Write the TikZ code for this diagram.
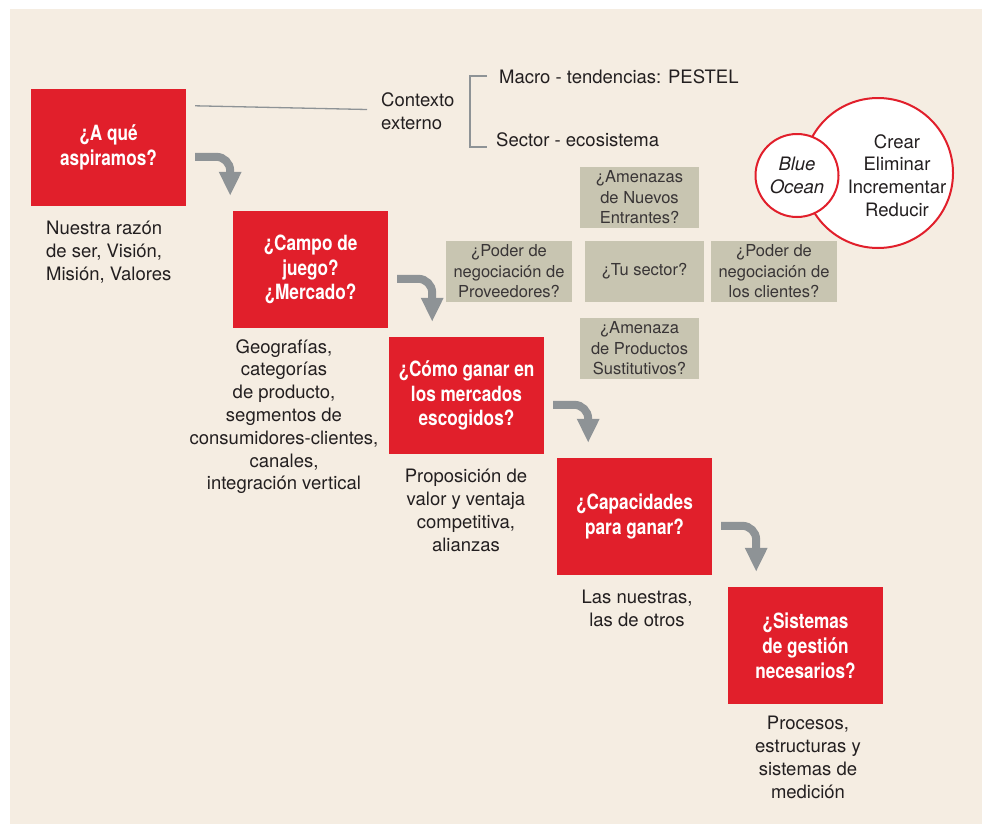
\documentclass[tikz,border=0pt]{standalone}
\usepackage{fontspec}
\setmainfont{TeX Gyre Heros}
\newfontfamily\condfont[FakeStretch=0.82]{TeX Gyre Heros}
\usetikzlibrary{arrows.meta,calc}

\definecolor{bgbeige}{HTML}{F5EDE2}
\definecolor{qred}{HTML}{E11F2B}
\definecolor{arrowgray}{HTML}{8E9396}
\definecolor{forcegray}{HTML}{C8C5B1}
\definecolor{inkgray}{HTML}{231F20}

\tikzset{
  question/.style={fill=qred, text=white, minimum width=155pt, minimum height=117pt,
    inner sep=0pt, align=center, font=\condfont\bfseries\fontsize{21}{24.8}\selectfont},
  answer/.style={text=inkgray, align=center, inner sep=0pt, font=\fontsize{18.5}{22.8}\selectfont},
  force/.style={fill=forcegray, text=inkgray!90, minimum height=61pt, inner sep=0pt,
    align=center, font=\fontsize{16.5}{20.5}\selectfont},
  flowarrow/.style={draw=arrowgray, line width=8pt, rounded corners=14pt,
    -{Triangle[length=24pt,width=21pt]}},
  ocean/.style={circle, draw=qred, fill=white, line width=2pt, inner sep=0pt},
  thinline/.style={draw=arrowgray, line width=1.3pt},
}

\begin{document}
\begin{tikzpicture}[x=1pt,y=-1pt]
  \useasboundingbox (0,0) rectangle (987,827);
  \fill[bgbeige] (10,9) rectangle (982,824);

  % the five questions
  \node[question] (q1) at (108.5,147.5) {¿A qué\\aspiramos?};
  \node[question] (q2) at (310.5,269.5) {¿Campo de\\juego?\\¿Mercado?};
  \node[question] (q3) at (466.5,395.5) {¿Cómo ganar en\\los mercados\\escogidos?};
  \node[question] (q4) at (634.5,516.5) {¿Capacidades\\para ganar?};
  \node[question] (q5) at (805.5,645.5) {¿Sistemas\\de gestión\\necesarios?};

  % what each one covers
  \node[answer, align=left, anchor=west] (a1) at (46,252) {Nuestra razón\\de ser, Visión,\\Misión, Valores};
  \node[answer] (a2) at (284,416.5) {Geografías,\\categorías\\de producto,\\segmentos de\\consumidores-clientes,\\canales,\\integración vertical};
  \node[answer] (a3) at (466,510.5) {Proposición de\\valor y ventaja\\competitiva,\\alianzas};
  \node[answer] (a4) at (637,608.5) {Las nuestras,\\las de otros};
  \node[answer] (a5) at (808,757.5) {Procesos,\\estructuras y\\sistemas de\\medición};

  % steps
  \foreach \from/\to in {q1/q2,q2/q3,q3/q4,q4/q5}
    \draw[flowarrow] ($(\from.north east)+(9,68)$) -| ($(\from.east |- \to.north)+(44,-15)$);

  % external context
  \node[answer, align=left, anchor=west] (ctx) at (381,111.5) {Contexto\\externo};
  \node[answer, anchor=west] (macro) at (499,77) {Macro - tendencias: PESTEL};
  \node[answer, anchor=west] (sector) at (496,140) {Sector - ecosistema};
  \draw[thinline] ($(q1.north east)+(9,17)$) -- ([xshift=-14pt,yshift=2pt]ctx.west);
  \draw[thinline] (487,76) -| (470,147) -- (487,147);

  % five forces
  \node[force, minimum width=119pt] (entrants) at (639.5,197.5) {¿Amenazas\\de Nuevos\\Entrantes?};
  \node[force, minimum width=126pt] (suppliers) at (509,271.5) {¿Poder de\\negociación de\\Proveedores?};
  \node[force, minimum width=119pt] (sector2) at (644.5,271.5) {¿Tu sector?};
  \node[force, minimum width=126pt] (clients) at (774,271.5) {¿Poder de\\negociación de\\los clientes?};
  \node[force, minimum width=119pt] (substitutes) at (639.5,348.5) {¿Amenaza\\de Productos\\Sustitutivos?};

  % blue ocean
  \node[ocean, minimum size=150pt] (actions) at (878,173) {};
  \node[ocean, minimum size=83pt] (blue) at (797,175.5) {};
  \node[answer, font=\itshape\fontsize{18.5}{22.8}\selectfont] (bluetext) at (blue) {Blue\\Ocean};
  \node[answer] (actiontext) at (897,175.5) {Crear\\Eliminar\\Incrementar\\Reducir};
\end{tikzpicture}
\end{document}
